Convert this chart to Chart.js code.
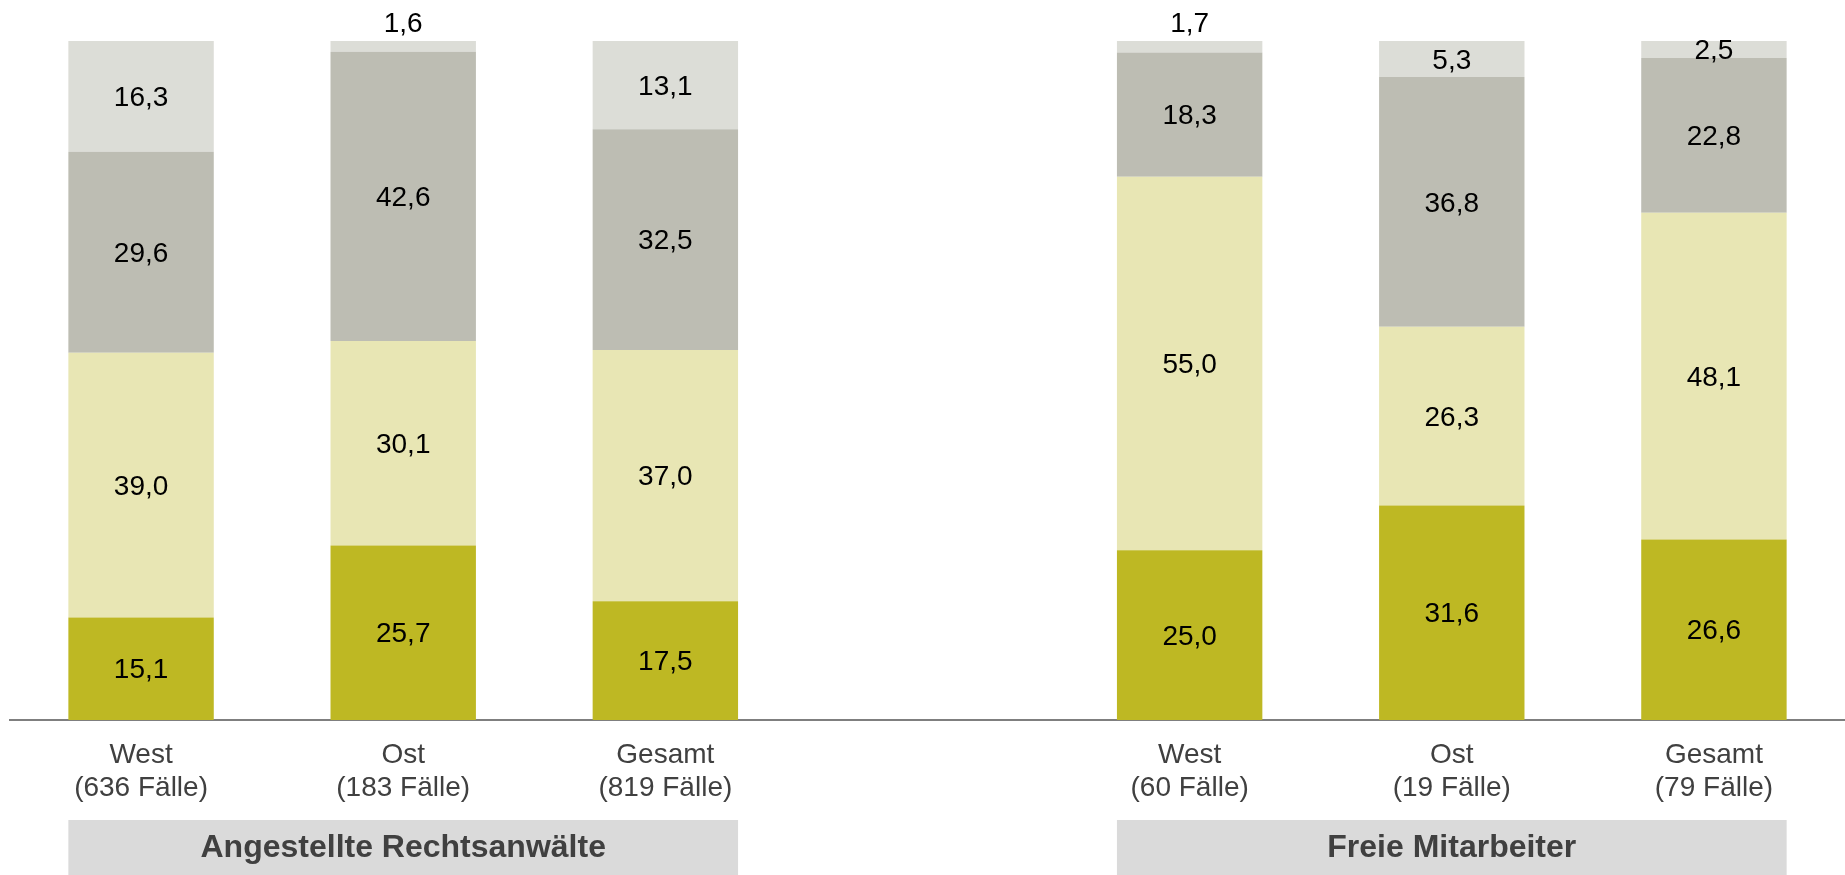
<!DOCTYPE html>
<html><head><meta charset="utf-8">
<script src="https://cdn.jsdelivr.net/npm/chart.js@4/dist/chart.umd.min.js"></script>
<style>html,body{margin:0;padding:0;background:#fff;overflow:hidden}</style>
</head><body>
<canvas id="c" width="1845" height="875"></canvas>
<script>
// ---- data ----
const categories = ['West', 'Ost', 'Gesamt', '', 'West', 'Ost', 'Gesamt'];
const caseLabels = ['(636 Fälle)', '(183 Fälle)', '(819 Fälle)', '', '(60 Fälle)', '(19 Fälle)', '(79 Fälle)'];
const groupNames = ['Angestellte Rechtsanwälte', 'Freie Mitarbeiter'];
const groupSpans = [[0, 2], [4, 6]];
const series1 = [15.1, 25.7, 17.5, null, 25.0, 31.6, 26.6];
const series2 = [39.0, 30.1, 37.0, null, 55.0, 26.3, 48.1];
const series3 = [29.6, 42.6, 32.5, null, 18.3, 36.8, 22.8];
const series4 = [16.3, 1.6, 13.1, null, 1.7, 5.3, 2.5];
const seriesColors = ['#beb823', '#e8e6b4', '#bdbdb3', '#dcddd7'];

const FONT = '"Liberation Sans", Arial, sans-serif';

const labelsPlugin = {
  id: 'segLabels',
  afterDatasetsDraw(chart) {
    const ctx = chart.ctx;
    ctx.save();
    ctx.font = '28px ' + FONT;
    ctx.fillStyle = '#000';
    ctx.textAlign = 'center';
    ctx.textBaseline = 'middle';
    chart.data.datasets.forEach((ds, di) => {
      const meta = chart.getDatasetMeta(di);
      meta.data.forEach((el, i) => {
        const v = ds.data[i];
        if (v === null || v === undefined) return;
        const txt = v.toFixed(1).replace('.', ',');
        let y;
        if (v < 2) y = Math.min(el.y, el.base) - 17;
        else y = (el.y + el.base) / 2 + 2;
        ctx.fillText(txt, el.x, y);
      });
    });
    ctx.restore();
  }
};

const groupPlugin = {
  id: 'groupBoxes',
  afterDraw(chart) {
    const ctx = chart.ctx;
    const meta = chart.getDatasetMeta(0);
    const top = chart.chartArea.bottom + 100;
    const bottom = chart.height;
    ctx.save();
    groupSpans.forEach((span, gi) => {
      const a = meta.data[span[0]], b = meta.data[span[1]];
      const left = a.x - a.width / 2;
      const right = b.x + b.width / 2;
      ctx.fillStyle = '#dadada';
      ctx.fillRect(left, top, right - left, bottom - top);
      ctx.fillStyle = '#404040';
      ctx.font = 'bold 32px ' + FONT;
      ctx.textAlign = 'center';
      ctx.textBaseline = 'middle';
      ctx.fillText(groupNames[gi], (left + right) / 2, (top + bottom) / 2 + 1);
    });
    ctx.restore();
  }
};

new Chart(document.getElementById('c'), {
  type: 'bar',
  data: {
    labels: categories.map((c, i) => c ? [c, caseLabels[i]] : ''),
    datasets: [series1, series2, series3, series4].map((d, i) => ({
      data: d,
      backgroundColor: seriesColors[i],
      borderWidth: 0,
      categoryPercentage: 1,
      barPercentage: 0.5547
    }))
  },
  options: {
    responsive: false,
    animation: false,
    layout: { padding: { left: 10, right: -20, top: 41, bottom: 51 } },
    plugins: { legend: { display: false }, tooltip: { enabled: false } },
    scales: {
      x: {
        stacked: true,
        grid: { display: false, drawTicks: false },
        border: { display: true, color: '#7f7f7f', width: 2 },
        ticks: {
          color: '#404040', padding: 19, maxRotation: 0, autoSkip: false,
          font: { family: FONT, size: 28, lineHeight: 33 / 28 }
        }
      },
      y: {
        stacked: true, display: false, min: 0, max: 100
      }
    }
  },
  plugins: [labelsPlugin, groupPlugin]
});
</script>
</body></html>
